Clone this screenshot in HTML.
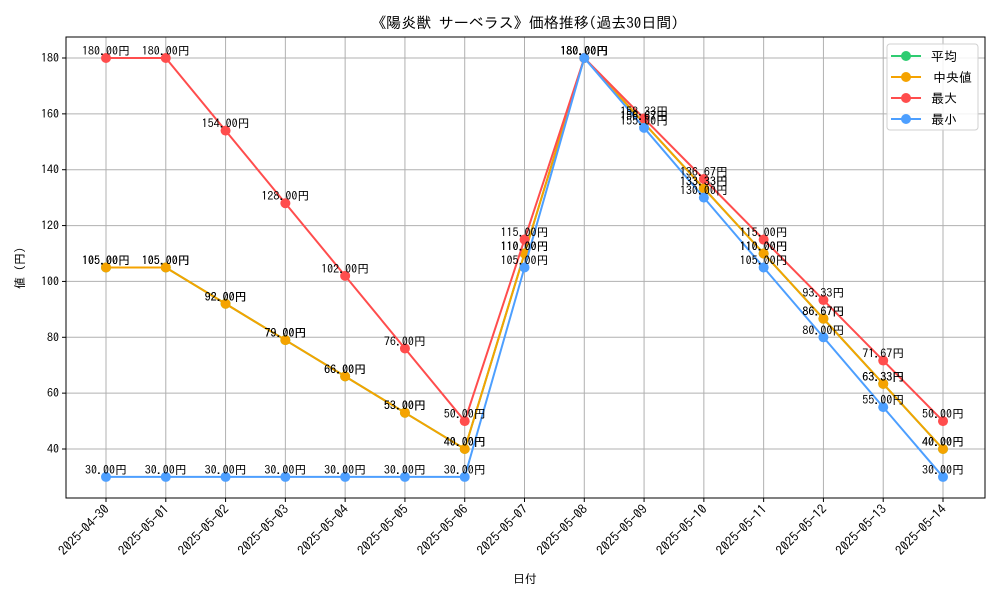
<!DOCTYPE html>
<html><head><meta charset="utf-8"><style>
body{margin:0;background:#fff}
svg{font-family:"IPAGothic","Noto Sans CJK JP",sans-serif}
</style></head><body>
<svg id="chart" width="1000" height="600"></svg>
<script>
const dates=["2025-04-30","2025-05-01","2025-05-02","2025-05-03","2025-05-04","2025-05-05","2025-05-06","2025-05-07","2025-05-08","2025-05-09","2025-05-10","2025-05-11","2025-05-12","2025-05-13","2025-05-14"];
const meanVals=[105,105,92,79,66,53,40,110,180,156.67,133.33,110,86.67,63.33,40];
const medianVals=[105,105,92,79,66,53,40,110,180,156.67,133.33,110,86.67,63.33,40];
const maxVals=[180,180,154,128,102,76,50,115,180,158.33,136.67,115,93.33,71.67,50];
const minVals=[30,30,30,30,30,30,30,105,180,155,130,105,80,55,30];
const yTicks=[40,60,80,100,120,140,160,180];
const seriesNames=["平均","中央値","最大","最小"];

const svg=document.getElementById('chart');
const NS='http://www.w3.org/2000/svg';
const L=66,R=985,T=37,B=498;
const x=i=>106+i*(943-106)/(dates.length-1);
const y=v=>449-(v-40)*(449-58)/140;
function mk(tag,attrs,parent){const e=document.createElementNS(NS,tag);for(const k in attrs)e.setAttribute(k,attrs[k]);(parent||svg).appendChild(e);return e;}
function txt(s,attrs,parent){const e=mk('text',attrs,parent);e.textContent=s;return e;}

const grid=mk('g',{});


dates.forEach((d,i)=>{
  mk('line',{x1:x(i),x2:x(i),y1:T,y2:B,stroke:'#b0b0b0','stroke-width':1},grid);
  mk('line',{x1:x(i),x2:x(i),y1:B,y2:B+4,stroke:'#000'});
  const t=txt(d,{x:x(i)+4,y:B+12,'font-size':13,'text-anchor':'end',transform:`rotate(-45 ${x(i)+4} ${B+12})`});
  
  
});
yTicks.forEach(v=>{
  mk('line',{x1:L,x2:R,y1:y(v),y2:y(v),stroke:'#b0b0b0','stroke-width':1},grid);
  mk('line',{x1:L-4,x2:L,y1:y(v),y2:y(v),stroke:'#000'});
  const t=txt(String(v),{x:L-7,y:y(v)+4,'font-size':12,'text-anchor':'end'});
  
  
});
const frame=mk('rect',{x:L,y:T,width:R-L,height:B-T,fill:'none',stroke:'#000','stroke-width':1});



const colors=['#2ecc71','#f5a300','#ff4d4d','#4d9fff'];
const all=[meanVals,medianVals,maxVals,minVals];
const keys=['mean','median','max','min'];
all.forEach((vals,si)=>{
  const g=mk('g',{});
  
  
  const p=mk('polyline',{points:vals.map((v,i)=>x(i)+','+y(v)).join(' '),fill:'none',stroke:colors[si],'stroke-width':2},g);
  
  
  vals.forEach((v,i)=>{
    const c=mk('circle',{cx:x(i),cy:y(v),r:5,fill:colors[si]},g);
    
    
  });
});
all.forEach((vals,si)=>{
  const g=mk('g',{});
  
  
  vals.forEach((v,i)=>{
    const t=txt(v.toFixed(2)+'円',{x:x(i),y:y(v)-3,'font-size':12,'text-anchor':'middle'},g);
    
    
  });
});

const title=txt('《陽炎獣 サーベラス》価格推移(過去30日間)',{x:525,y:28,'font-size':15,'text-anchor':'middle'});


const xl=txt('日付',{x:525,y:583,'font-size':12,'text-anchor':'middle'});


const yl=txt('値 (円)',{x:24,y:268,'font-size':12,'text-anchor':'middle',transform:'rotate(-90 24 268)'});



const lg=mk('g',{});


mk('rect',{x:887,y:44,width:91,height:86,rx:3,fill:'#fff','fill-opacity':0.85,stroke:'#d0d0d0'},lg);
seriesNames.forEach((n,i)=>{
  const ly=56+i*21;
  const e=mk('g',{},lg);
  
  
  mk('line',{x1:891,x2:921,y1:ly,y2:ly,stroke:colors[i],'stroke-width':2},e);
  mk('circle',{cx:906,cy:ly,r:5,fill:colors[i]},e);
  txt(n,{x:i==1?933:931,y:ly+5,'font-size':13},e);
});
</script>
</body></html>
